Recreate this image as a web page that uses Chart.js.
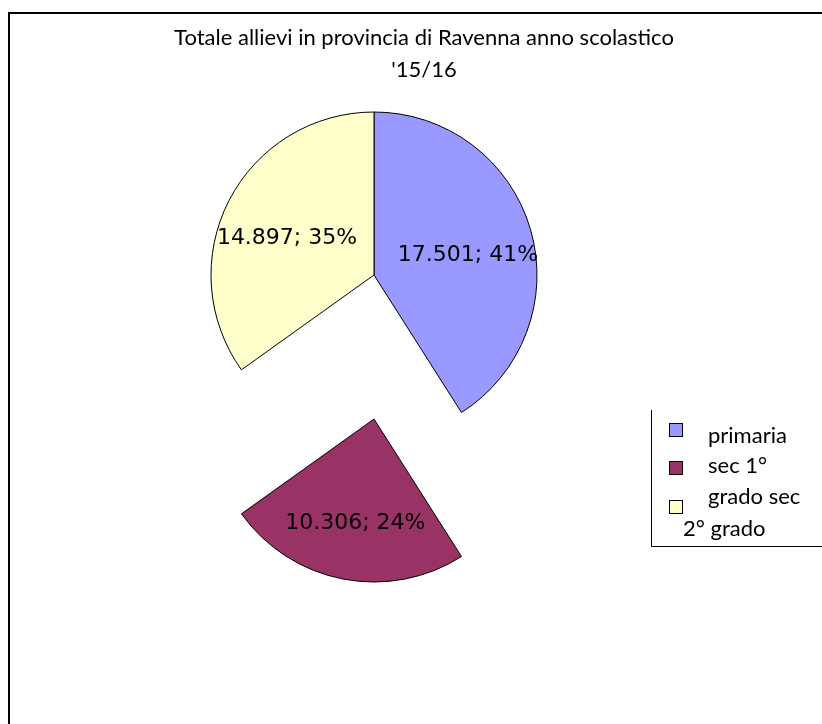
<!DOCTYPE html>
<html>
<head>
<meta charset="utf-8">
<script src="https://cdn.jsdelivr.net/npm/chart.js@4.4.1/dist/chart.umd.min.js"></script>
<style>
html, body { margin: 0; padding: 0; background: #fff; overflow: hidden; }
#frame { position: absolute; left: 8px; top: 12px; width: 900px; height: 800px; border-left: 2px solid #000; border-top: 2px solid #000; }
canvas { position: absolute; left: 0; top: 0; }
</style>
</head>
<body>
<div id="frame"></div>
<canvas id="pie" width="822" height="724"></canvas>
<script>
// data
const titleLines = ['Totale allievi in provincia di Ravenna anno scolastico', "'15/16"];
const categories = ['primaria', 'sec 1°', 'grado sec 2° grado'];
const legendLines = [['primaria'], ['sec 1°'], ['grado sec', '2° grado']];
const students = [17501, 10306, 14897];
const colors = ['#9999FF', '#993366', '#FFFFCC'];
const explode = [0, 144, 0];   // sec 1° slice is pulled straight down

const total = students.reduce((a, b) => a + b, 0);
const fmt = v => String(v).replace(/\B(?=(\d{3})+(?!\d))/g, '.');

// move exploded slices down instead of along their mid angle
const dropSlice = {
    id: 'dropSlice',
    afterUpdate(chart) {
        chart.getDatasetMeta(0).data.forEach((arc, i) => {
            if (!explode[i] || arc.__dropped) return;
            const base = arc.draw;
            arc.draw = function (ctx, area) {
                ctx.save();
                ctx.translate(0, explode[i]);
                base.call(this, ctx, area);
                ctx.restore();
            };
            arc.__dropped = true;
        });
    }
};

// "17.501; 41%" inside each slice
const sliceLabels = {
    id: 'sliceLabels',
    afterDatasetsDraw(chart) {
        const ctx = chart.ctx;
        ctx.save();
        ctx.font = '22px "DejaVu Sans"';
        ctx.fillStyle = '#000';
        ctx.textAlign = 'center';
        ctx.textBaseline = 'middle';
        chart.getDatasetMeta(0).data.forEach((arc, i) => {
            const p = arc.getProps(['x', 'y', 'startAngle', 'endAngle', 'outerRadius'], true);
            const mid = (p.startAngle + p.endAngle) / 2;
            const d = p.outerRadius * 0.6;
            const txt = fmt(students[i]) + '; ' + Math.round(students[i] / total * 100) + '%';
            ctx.fillText(txt, p.x + Math.cos(mid) * d, p.y + Math.sin(mid) * d + explode[i] + 8);
        });
        ctx.restore();
    }
};

// title + boxed legend like the spreadsheet chart
const frameText = {
    id: 'frameText',
    afterDraw(chart) {
        const ctx = chart.ctx;
        ctx.save();
        ctx.fillStyle = '#000';
        ctx.font = '22px Lato';
        ctx.textAlign = 'center';
        ctx.textBaseline = 'middle';
        titleLines.forEach((t, i) => ctx.fillText(t, 424, 38 + i * 32));

        // legend box
        ctx.strokeStyle = '#000';
        ctx.lineWidth = 1;
        ctx.beginPath();
        ctx.moveTo(651.5, 410);
        ctx.lineTo(651.5, 546.5);
        ctx.lineTo(830, 546.5);
        ctx.stroke();

        const boxY = [430, 468, 507];
        const textY = [436, 466, 497];
        ctx.textAlign = 'left';
        legendLines.forEach((lines, i) => {
            ctx.fillStyle = colors[i];
            ctx.fillRect(669, boxY[i] - 7, 13, 13);
            ctx.strokeRect(669.5, boxY[i] - 6.5, 13, 13);
            ctx.fillStyle = '#000';
            lines.forEach((l, j) => ctx.fillText(l, j ? 683 : 708, textY[i] + j * 32));
        });
        ctx.restore();
    }
};

new Chart(document.getElementById('pie'), {
    type: 'pie',
    data: {
        labels: categories,
        datasets: [{
            data: students,
            backgroundColor: colors,
            borderColor: '#000',
            borderWidth: 1
        }]
    },
    options: {
        responsive: false,
        animation: false,
        events: [],
        radius: 163,
        layout: { padding: { left: 0, right: 74, top: 0, bottom: 174 } },
        plugins: {
            legend: { display: false },
            title: { display: false },
            tooltip: { enabled: false }
        }
    },
    plugins: [dropSlice, sliceLabels, frameText]
});
</script>
</body>
</html>
